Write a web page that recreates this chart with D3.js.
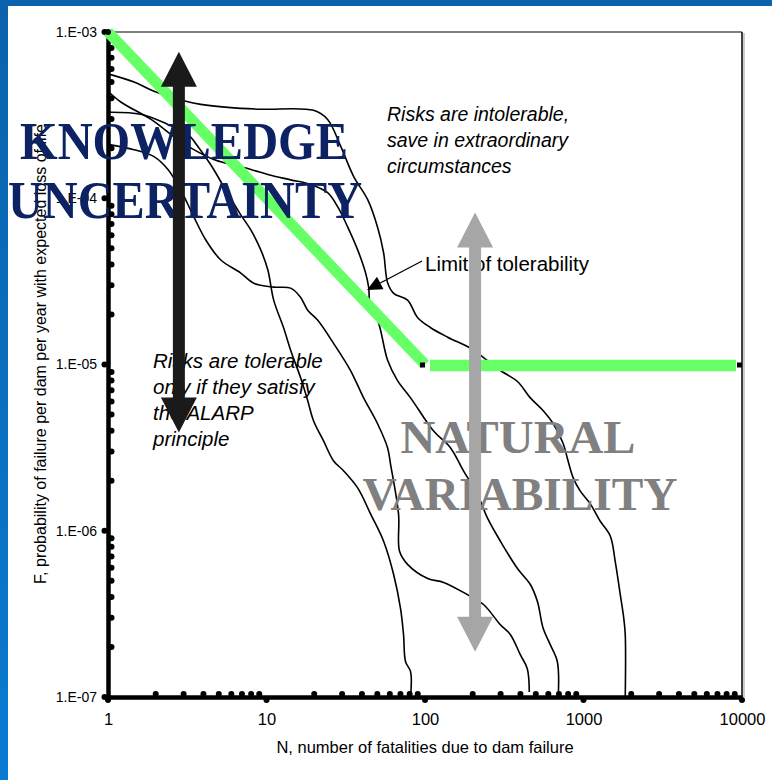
<!DOCTYPE html>
<html><head><meta charset="utf-8">
<script src="https://cdn.jsdelivr.net/npm/d3@7"></script>
<style>html,body{margin:0;padding:0;background:#fff;} svg{display:block}</style>
</head><body>
<svg id="c" width="772" height="780"></svg>
<script>
// ---------- data ----------
const xTickValues = [1, 10, 100, 1000, 10000];
const xTickLabels = ["1", "10", "100", "1000", "10000"];
const yTickValues = [1e-3, 1e-4, 1e-5, 1e-6, 1e-7];
const yTickLabels = ["1.E-03", "1.E-04", "1.E-05", "1.E-06", "1.E-07"];
const xTitle = "N, number of fatalities due to dam failure";
const yTitle = "F, probability of failure per dam per year with expected loss of life";

// F-N curves [N, F]
const curveA = [[1,5.6e-4],[1.46,5.0e-4],[1.95,4.4e-4],[3.1,3.83e-4],[3.85,3.67e-4],[5.7,3.52e-4],[9.2,3.43e-4],[19.8,3.38e-4],[24.3,2.98e-4],[29.4,2.05e-4],[35.5,1.35e-4],[43.5,9.8e-5],[50.2,6.7e-5],[54.8,4.7e-5],[58.1,3.1e-5],[63.4,2.68e-5],[77.6,2.44e-5],[89.7,1.92e-5],[108,1.67e-5],[139,1.46e-5],[194,1.25e-5],[234,1.1e-5],[299,9.2e-6],[383,7.9e-6],[462,6.3e-6],[557,5.27e-6],[645,4.4e-6],[745,3.34e-6],[790,2.74e-6],[861,2.08e-6],[955,1.73e-6],[1104,1.45e-6],[1276,1.14e-6],[1475,9.3e-7],[1585,6.55e-7],[1706,4.13e-7],[1790,3.04e-7],[1834,2.37e-7],[1834,1e-7]];
const curveB = [[1,4.4e-4],[1.21,3.78e-4],[1.87,2.98e-4],[2.6,2.35e-4],[3.48,1.96e-4],[4.65,1.71e-4],[7.96,1.49e-4],[10.2,1.39e-4],[14.2,1.29e-4],[19,1.21e-4],[24.3,1.08e-4],[28.1,8.9e-5],[32.5,6.73e-5],[37.6,4.89e-5],[42.2,3.55e-5],[44.1,2.92e-5],[45.4,2.12e-5],[50.2,1.85e-5],[58.1,1.06e-5],[67.1,8.0e-6],[81.1,6.3e-6],[113,3.99e-6],[145,3.15e-6],[175,2.29e-6],[214,1.66e-6],[248,1.19e-6],[299,8.65e-7],[383,5.93e-7],[462,4.75e-7],[512,3.75e-7],[557,2.58e-7],[618,2.06e-7],[684,1.63e-7],[693,1e-7]];
const curveC = [[1,3.29e-4],[1.61,3.2e-4],[2.39,2.78e-4],[3.19,2.42e-4],[3.69,2.05e-4],[4.45,1.59e-4],[5.53,1.12e-4],[6.88,7.95e-5],[7.96,6.45e-5],[9.2,4.89e-5],[10.2,3.7e-5],[11.1,2.44e-5],[12.8,1.67e-5],[14.2,1.22e-5],[16.4,8.34e-6],[18.2,6.06e-6],[19.8,4.59e-6],[22.9,3.47e-6],[26.5,2.63e-6],[30.7,2.29e-6],[37.6,1.81e-6],[45.4,1.26e-6],[54.8,8.65e-7],[63.4,5.46e-7],[70.1,3.4e-7],[73.2,2.37e-7],[75.4,1.63e-7],[81.1,1.42e-7],[81.1,1e-7]];
const curveD = [[1,2.11e-4],[1.46,1.96e-4],[1.95,1.78e-4],[2.39,1.49e-4],[2.88,1.12e-4],[3.48,7.73e-5],[4.14,5.61e-5],[5.15,4.25e-5],[6.88,3.55e-5],[8.31,3.08e-5],[11.1,2.92e-5],[14.2,2.88e-5],[16.4,2.54e-5],[18.2,2.12e-5],[21,1.85e-5],[26.5,1.34e-5],[33.9,9.2e-6],[41,6.3e-6],[50.2,4.4e-6],[58.1,3.15e-6],[60.6,2.52e-6],[68.1,1.26e-6],[69.1,7.52e-7],[77.6,6.28e-7],[104,5.16e-7],[131,4.89e-7],[185,4.13e-7],[234,3.6e-7],[299,2.72e-7],[346,2.37e-7],[400,1.79e-7],[442,1.48e-7],[455,1.07e-7]];
const fnCurves = [curveA, curveB, curveC, curveD];

// limit of tolerability [N, F]
const limitDiagonal = [[1, 1e-3], [100, 1e-5]];
const limitFlat = [[100, 1e-5], [10000, 1e-5]];

// arrows [N, Ftop, Fbottom]
const knowledgeArrow = [2.8, 7.6e-4, 3.9e-6];
const naturalArrow = [207, 8.2e-5, 1.87e-7];

// ---------- drawing ----------
const svg = d3.select("#c");
const W = 772, H = 780;
const defs = svg.append("defs");
const grad = defs.append("linearGradient").attr("id","blueBand").attr("x1",0).attr("y1",0).attr("x2",0).attr("y2",1);
grad.append("stop").attr("offset","0%").attr("stop-color","#0a62ab");
grad.append("stop").attr("offset","100%").attr("stop-color","#0a7bd2");

svg.append("rect").attr("width",W).attr("height",H).attr("fill","#fff");
svg.append("rect").attr("x",0).attr("y",0).attr("width",8).attr("height",H).attr("fill","url(#blueBand)");
svg.append("rect").attr("x",0).attr("y",0).attr("width",W).attr("height",6).attr("fill","#0a63ae");

const x = d3.scaleLog().domain([1, 10000]).range([108, 742]);
const y = d3.scaleLog().domain([1e-7, 1e-3]).range([697, 32]);
const sans = "Arial, 'Liberation Sans', sans-serif";
const serif = "'Times New Roman', 'Liberation Serif', serif";

// plot frame (top & right thin)
svg.append("line").attr("x1",x(1)).attr("x2",x(10000)).attr("y1",y(1e-3)).attr("y2",y(1e-3)).attr("stroke","#000").attr("stroke-width",1.2);
svg.append("line").attr("x1",x(10000)+2).attr("x2",x(10000)+2).attr("y1",y(1e-3)+1).attr("y2",y(1e-7)).attr("stroke","#999").attr("stroke-width",1);
svg.append("line").attr("x1",x(10000)).attr("x2",x(10000)).attr("y1",y(1e-3)).attr("y2",y(1e-7)).attr("stroke","#000").attr("stroke-width",1.5);

// FN curves
const line = d3.line().x(d => x(d[0])).y(d => y(d[1])).curve(d3.curveCatmullRom.alpha(0.5));
svg.append("g").selectAll("path").data(fnCurves).join("path")
  .attr("d", line).attr("fill","none").attr("stroke","#000").attr("stroke-width",1.6).attr("stroke-linejoin","round");

// axes
const gx = svg.append("g").attr("transform",`translate(0,${y(1e-7)})`)
  .call(d3.axisBottom(x).tickValues(xTickValues).tickFormat((d,i)=>xTickLabels[i]).tickSize(0).tickPadding(16));
const gy = svg.append("g").attr("transform",`translate(${x(1)},0)`)
  .call(d3.axisLeft(y).tickValues(yTickValues).tickFormat((d,i)=>yTickLabels[i]).tickSize(0).tickPadding(11));
[gx, gy].forEach(g => {
  g.select(".domain").attr("stroke","#000").attr("stroke-width",4.5);
  g.selectAll("text").attr("font-family",sans).attr("font-size",14).attr("fill","#000");
});
gx.selectAll("text").attr("font-size",16.5);

// dot ticks
const minorX = [], minorY = [];
for (let k = 0; k < 4; k++) for (let m = 2; m <= 9; m++) minorX.push(m * Math.pow(10,k));
for (let k = -7; k < -3; k++) for (let m = 2; m <= 9; m++) minorY.push(m * Math.pow(10,k));
svg.append("g").selectAll("circle").data(minorX).join("circle")
  .attr("cx", d => x(d)).attr("cy", y(1e-7)-3).attr("r",3).attr("fill","#000");
svg.append("g").selectAll("circle").data(xTickValues).join("circle")
  .attr("cx", d => x(d)).attr("cy", y(1e-7)+3).attr("r",3).attr("fill","#000");
svg.append("g").selectAll("circle").data(minorY).join("circle")
  .attr("cx", x(1)+3.5).attr("cy", d => y(d)).attr("r",3).attr("fill","#000");
svg.append("g").selectAll("circle").data(yTickValues).join("circle")
  .attr("cx", x(1)-3.5).attr("cy", d => y(d)).attr("r",3).attr("fill","#000");

// axis titles
svg.append("text").attr("x",(x(1)+x(10000))/2).attr("y",753).attr("text-anchor","middle")
  .attr("font-family",sans).attr("font-size",16.5).text(xTitle);
svg.append("text").attr("transform","translate(46,354) rotate(-90)").attr("text-anchor","middle")
  .attr("font-family",sans).attr("font-size",16).text(yTitle);

// limit of tolerability (green)
const green = "#66ff66";
svg.append("path").attr("d", d3.line().x(d=>x(d[0])).y(d=>y(d[1]))(limitDiagonal))
  .attr("stroke",green).attr("stroke-width",11).attr("fill","none");
svg.append("rect").attr("x",x(100)-5).attr("y",y(1e-5)-2).attr("width",5).attr("height",5).attr("fill","#000");
svg.append("rect").attr("x",x(10000)-5).attr("y",y(1e-5)-2).attr("width",5).attr("height",5).attr("fill","#000");
svg.append("line").attr("x1",x(limitFlat[0][0])+5).attr("x2",x(limitFlat[1][0])-6)
  .attr("y1",y(limitFlat[0][1])+1).attr("y2",y(limitFlat[1][1])+1)
  .attr("stroke",green).attr("stroke-width",11.5);
svg.append("circle").attr("cx",x(1)).attr("cy",y(1e-3)).attr("r",3).attr("fill","#000");

// italic region texts
const italic = (lines, x0, ys, fs) => lines.forEach((t,i) => svg.append("text").attr("x",x0).attr("y",ys[i])
  .attr("font-family",sans).attr("font-style","italic").attr("font-size",fs).attr("fill","#000").text(t));
italic(["Risks are intolerable,","save in extraordinary","circumstances"], 387, [121,147,173], 19.5);
italic(["Risks are tolerable","only if they satisfy","the ALARP","principle"], 153, [368,394,420,446], 20.5);

// big labels
const big = (t, cx, by, size, len, col) => svg.append("text").attr("x",cx).attr("y",by).attr("text-anchor","middle")
  .attr("font-family",serif).attr("font-weight","bold").attr("font-size",size).attr("fill",col)
  .attr("textLength",len).attr("lengthAdjust","spacingAndGlyphs").text(t);
big("KNOWLEDGE", 184, 159, 52, 328, "#0c2262");
big("UNCERTAINTY", 185, 218, 52, 354, "#0c2262");
big("NATURAL", 518, 453, 47, 235, "#808080");
big("VARIABILITY", 520, 510, 47, 315, "#808080");

// double arrows
function dblArrow(a, col) {
  const cx = x(a[0]), t = y(a[1]), b = y(a[2]);
  const sw = 6, hw = 18, hl = 35;
  const p = d3.path();
  p.moveTo(cx, t); p.lineTo(cx+hw, t+hl); p.lineTo(cx+sw, t+hl); p.lineTo(cx+sw, b-hl);
  p.lineTo(cx+hw, b-hl); p.lineTo(cx, b); p.lineTo(cx-hw, b-hl); p.lineTo(cx-sw, b-hl);
  p.lineTo(cx-sw, t+hl); p.lineTo(cx-hw, t+hl); p.closePath();
  svg.append("path").attr("d", p.toString()).attr("fill", col);
}
dblArrow(knowledgeArrow, "#1a1a1a");

// limit annotation
svg.append("text").attr("x",425).attr("y",271).attr("font-family",sans).attr("font-size",20.5).attr("fill","#000").text("Limit of tolerability");
const tipX = 367, tipY = 290, fromX = 422, fromY = 261;
const ang = Math.atan2(tipY-fromY, tipX-fromX);
const hl2 = 15, hw2 = 7;
const bx = tipX - hl2*Math.cos(ang), by = tipY - hl2*Math.sin(ang);
svg.append("line").attr("x1",fromX).attr("y1",fromY).attr("x2",bx).attr("y2",by).attr("stroke","#000").attr("stroke-width",1.3);
svg.append("path").attr("d",`M${tipX},${tipY}L${bx - hw2*Math.sin(ang)},${by + hw2*Math.cos(ang)}L${bx + hw2*Math.sin(ang)},${by - hw2*Math.cos(ang)}Z`).attr("fill","#000");

dblArrow(naturalArrow, "#a6a6a6");
</script>
</body></html>
